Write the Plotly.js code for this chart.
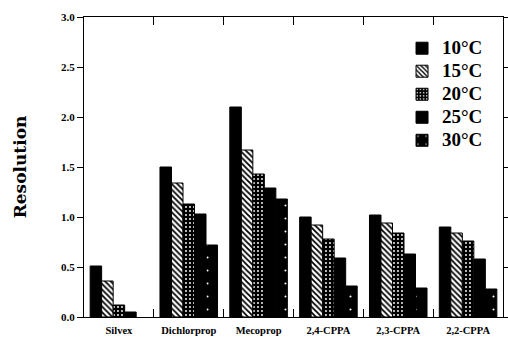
<!DOCTYPE html>
<html>
<head>
<meta charset="utf-8">
<script src="https://cdn.plot.ly/plotly-3.0.1.min.js"></script>
<style>html,body{margin:0;padding:0;background:#fff;}</style>
</head>
<body>
<div id="chart" style="width:508px;height:339px;"></div>
<script>
const categories = ["Silvex", "Dichlorprop", "Mecoprop", "2,4-CPPA", "2,3-CPPA", "2,2-CPPA"];
const seriesNames = ["10°C", "15°C", "20°C", "25°C", "30°C"];
const res10 = [0.51, 1.50, 2.10, 1.00, 1.02, 0.90];
const res15 = [0.36, 1.34, 1.67, 0.92, 0.94, 0.84];
const res20 = [0.12, 1.13, 1.43, 0.78, 0.84, 0.76];
const res25 = [0.05, 1.03, 1.29, 0.59, 0.63, 0.58];
const res30 = [null, 0.72, 1.18, 0.31, 0.29, 0.28];
const yTickVals = [0, 0.5, 1.0, 1.5, 2.0, 2.5, 3.0];

const seriesValues = [res10, res15, res20, res25, res30];
const patterns = [
  {shape: "", bgcolor: "#000", fgcolor: "#000"},
  {shape: "\\", bgcolor: "#fff", fgcolor: "#000", size: 4, solidity: 0.45, fillmode: "replace"},
  {shape: ".", bgcolor: "#000", fgcolor: "#fff", size: 4, solidity: 0.18, fillmode: "replace"},
  {shape: "", bgcolor: "#000", fgcolor: "#000"},
  {shape: ".", bgcolor: "#000", fgcolor: "#fff", size: 13, solidity: 0.02, fillmode: "replace"}
];

const traces = seriesValues.map((vals, i) => ({
  type: "bar",
  name: '<span style="font-size:19px">' + seriesNames[i] + '</span>',
  x: categories,
  y: vals,
  marker: {
    color: "#000",
    pattern: patterns[i],
    line: {color: "#000", width: 1}
  },
  hoverinfo: "skip"
}));

const serif = "Liberation Serif, Times New Roman, serif";
const layout = {
  width: 508,
  height: 339,
  margin: {l: 84, r: 5, t: 17, b: 22},
  paper_bgcolor: "#fff",
  plot_bgcolor: "#fff",
  barmode: "group",
  bargap: 0.176,
  bargroupgap: 0,
  showlegend: true,
  legend: {
    x: 0.759, y: 0.951, xanchor: "left", yanchor: "top",
    bgcolor: "rgba(0,0,0,0)",
    font: {family: serif, size: 15.4, color: "#000", weight: "bold"},
    traceorder: "normal"
  },
  xaxis: {
    type: "category",
    showline: true, linecolor: "#000", linewidth: 1, mirror: "ticks",
    ticks: "inside", tickson: "boundaries", ticklen: 8, tickcolor: "#000",
    ticklabelstandoff: 3,
    tickfont: {family: serif, size: 10.5, color: "#000", weight: "bold"},
    showgrid: false, zeroline: false, fixedrange: true
  },
  yaxis: {
    range: [0, 3],
    tickvals: yTickVals,
    tickformat: ".1f",
    showline: true, linecolor: "#000", linewidth: 1, mirror: "ticks",
    ticks: "outside", ticklen: 6, tickcolor: "#000",
    tickfont: {family: serif, size: 11, color: "#000", weight: "bold"},
    showgrid: false, zeroline: false, fixedrange: true,
    title: {text: "Resolution", standoff: 30,
            font: {family: "DejaVu Serif, serif", size: 17, color: "#000", weight: "bold"}}
  }
};

Plotly.newPlot("chart", traces, layout, {displayModeBar: false, staticPlot: true});
</script>
</body>
</html>
